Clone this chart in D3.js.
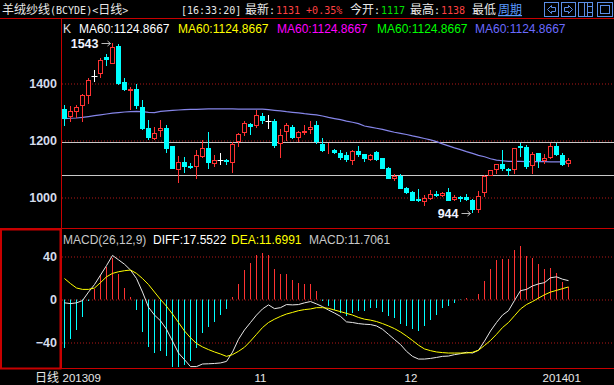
<!DOCTYPE html>
<html><head><meta charset="utf-8">
<script src="https://cdn.jsdelivr.net/npm/d3@7"></script>
<style>
body{margin:0;background:#000;}
svg{display:block;}
</style></head><body>
<div id="chart"></div>
<script>

// daily candles, Sep 2013 - Jan 2014
var open = [1310,1281,1300,1322,1357,1427,1432,1492,1470,1531,
    1405,1375,1380,1317,1243,1206,1234,1243,1180,1097,
    1124,1110,1107,1143,1172,1119,1130,1131,1122,1195,
    1227,1257,1251,1287,1270,1268,1186,1229,1247,1209,
    1226,1236,1255,1187,1164,1166,1157,1148,1127,1162,
    1153,1130,1159,1138,1103,1064,1075,1033,1019,995,
    985,995,1013,1005,1019,990,1001,1001,990,957,
    1017,1074,1097,1116,1099,1095,1180,1177,1110,1155,
    1127,1139,1180,1148,1117];
var close = [1274,1302,1317,1359,1412,1427,1481,1483,1529,1398,
    1377,1382,1320,1240,1208,1226,1243,1171,1099,1123,
    1107,1103,1148,1172,1122,1130,1130,1124,1187,1222,
    1261,1247,1289,1269,1270,1181,1219,1254,1209,1229,
    1233,1246,1193,1162,1167,1155,1138,1132,1162,1148,
    1134,1148,1131,1100,1065,1077,1029,1016,988,988,
    999,1012,1005,1017,988,1002,994,990,955,1007,
    1074,1095,1116,1099,1092,1172,1174,1107,1151,1127,
    1137,1179,1148,1115,1131];
var high = [1324,1320,1324,1364,1420,1448,1488,1502,1543,1540,
    1418,1388,1398,1341,1271,1248,1271,1253,1180,1145,
    1141,1120,1166,1201,1229,1148,1155,1134,1193,1228,
    1268,1261,1306,1296,1288,1275,1242,1263,1256,1233,
    1254,1268,1268,1210,1192,1171,1168,1158,1166,1180,
    1154,1151,1162,1138,1106,1081,1081,1038,1022,1029,
    1010,1026,1022,1020,1033,1008,1006,1011,996,1022,
    1078,1098,1117,1166,1103,1172,1191,1184,1158,1155,
    1154,1192,1192,1155,1138];
var low = [1251,1265,1278,1265,1327,1406,1420,1462,1470,1396,
    1373,1306,1312,1236,1201,1201,1213,1157,1099,1051,
    1086,1100,1064,1137,1099,1106,1113,1113,1086,1178,
    1216,1219,1244,1258,1240,1172,1139,1199,1205,1193,
    1219,1222,1189,1158,1152,1151,1132,1124,1113,1143,
    1125,1127,1127,1100,1065,1058,1029,1013,988,985,
    971,990,1001,1002,988,988,985,987,944,946,
    1002,1074,1082,1093,1076,1083,1142,1100,1083,1104,
    1118,1134,1146,1111,1106];
var ma60 = [1277,1278,1279,1281,1284,1287,1290,1293,1296,1298,
    1300,1301,1302,1301,1299,1298,1302,1304,1306,1307,
    1308,1309,1309,1310,1311,1311,1311,1311,1311,1310,
    1310,1310,1310,1310,1308,1306,1304,1301,1299,1297,
    1294,1292,1290,1286,1281,1277,1273,1268,1264,1259,
    1251,1247,1243,1239,1234,1229,1225,1221,1216,1212,
    1207,1202,1196,1188,1181,1174,1168,1161,1155,1148,
    1143,1136,1131,1129,1127,1127,1127,1126,1126,1126,
    1126,1125,1125,1125,1125];

// MACD(26,12,9)
var diff = [-3.1,-3.8,-3.1,-1,6.9,13.9,22.7,31.5,41,36.9,
    32.8,27.4,19.5,6.9,-7.2,-14.5,-19.8,-27.7,-38.7,-49.8,
    -56,-62.4,-62.4,-60,-59.8,-59.5,-59,-57.6,-49,-37,
    -28.3,-21.4,-14.5,-8.8,-5,-8.5,-7.6,-4.7,-5,-4.7,
    -3.1,-1.9,-4.1,-6.6,-9.8,-12.6,-15.7,-20.8,-21.4,-22.4,
    -23,-23.3,-24.6,-27.7,-32.4,-37.2,-41.9,-48.2,-52.9,-55.4,
    -55.4,-54.8,-53.9,-52.9,-52.6,-51.3,-50.4,-49.1,-49.8,-47.2,
    -38.7,-29.3,-21.4,-14.5,-10.4,-0.9,8.2,9.4,12.6,14.5,
    15.7,20.2,21.1,18.9,17.55];
var dea = [19.5,14.8,10.7,9.4,9.4,10.7,15.7,21.1,24.3,25.8,
    26.8,27.4,24.3,19.5,13.9,6.9,0,-6.3,-13.5,-21.4,
    -29.3,-35.6,-40.9,-44.1,-46.6,-48.8,-50.7,-52.9,-51.3,-48.2,
    -44.4,-38.7,-32.4,-26.1,-21.4,-18.3,-15.7,-13.5,-12,-10.4,
    -9.4,-8.8,-7.6,-7.6,-8.2,-9.8,-11.3,-12.9,-14.5,-16.7,
    -18.3,-19.2,-20.5,-22.4,-24.6,-27.1,-30.2,-34,-38.1,-42.5,
    -46,-47.6,-48.8,-49.4,-49.8,-49.8,-49.8,-49.8,-49.1,-47.2,
    -42.8,-38.1,-32.4,-26.1,-21.4,-15.1,-8.8,-4.7,-1.9,1.3,
    4.4,6.9,8.5,10.1,11.7];
var macd = [-45,-36.5,-28,-16.7,-1,10,23,30,39,24,
    11,2,-10,-30,-44,-50,-48,-53,-63,-63,
    -61,-57,-45,-31,-26,-21,-14.5,-9,2,14,
    27,34,41.5,43.5,41.5,28,23.6,23.6,18,15,
    14,14,7.5,-1,-5.7,-9.5,-12.6,-15.7,-12.6,-11,
    -11,-8.2,-8.2,-11.3,-15,-17.6,-23,-25,-27.7,-29.3,
    -24.6,-19.2,-14.5,-8.2,-6.3,-3.1,-0.5,1.2,0.5,4.7,
    17,28.7,36.8,38,38,46.3,50,40.6,38.4,33,
    28.7,29.3,24.6,16.4,11.7];

var priceTicks = [1000, 1200, 1400];
var levelLines = [1194, 1078];
var macdTicks = [-40, 0, 40];
var monthIdx = [0, 32, 57, 80];
var monthLabels = ["201309", "11", "12", "201401"];

var maLegend = [
    {t: "MA60:1124.8667", c: "#ffffff"},
    {t: "MA60:1124.8667", c: "#ffff00"},
    {t: "MA60:1124.8667", c: "#ff00ff"},
    {t: "MA60:1124.8667", c: "#00ff00"},
    {t: "MA60:1124.8667", c: "#6a6aff"}
];
var macdLegend = [
    {t: "MACD(26,12,9)", c: "#c8c8c8"},
    {t: "DIFF:17.5522", c: "#ffffff"},
    {t: "DEA:11.6991", c: "#ffff00"},
    {t: "MACD:11.7061", c: "#c8c8c8"}
];

var width = 614, height = 385;
var red = "#ff3232", cyan = "#00ffff", frame = "#c80000";

var svg = d3.select("#chart").append("svg")
    .attr("width", width)
    .attr("height", height)
    .style("background", "#000");

var x = d3.scaleBand()
    .domain(d3.range(open.length))
    .range([61.5, 61.5 + open.length * 6]);
function cx(i) { return x(i) + x.bandwidth() / 2; }

var y = d3.scaleLinear().domain([1000, 1400]).range([197.5, 83.5]);
var ym = d3.scaleLinear().domain([-40, 40]).range([342.5, 256.5]);

// header
function richText(sel, str) {
    var runs = str.match(/[\u4e00-\u9fff]+|[^\u4e00-\u9fff]+/g);
    runs.forEach(function(r) {
        var cjk = /[\u4e00-\u9fff]/.test(r);
        sel.append("tspan").text(r)
            .style("font-family", cjk ? "'Noto Sans CJK SC'" : "'DejaVu Sans Mono'")
            .style("font-size", cjk ? "12px" : "10px");
    });
}
var header = [
    {x: 2, t: "羊绒纱线(BCYDE)<日线>", c: "#e8e8e8"},
    {x: 181, t: "[16:33:20]", c: "#e8e8e8"},
    {x: 245, t: "最新:", c: "#e8e8e8"},
    {x: 276, t: "1131 +0.35%", c: "#ff4040"},
    {x: 350, t: "今开:", c: "#e8e8e8"},
    {x: 381, t: "1117", c: "#00e000"},
    {x: 410, t: "最高:", c: "#e8e8e8"},
    {x: 441, t: "1138", c: "#ff4040"},
    {x: 472, t: "最低", c: "#e8e8e8"},
    {x: 498, t: "周期", c: "#5a9aff"}
];
header.forEach(function(d) {
    var t = svg.append("text").attr("x", d.x).attr("y", 14).attr("fill", d.c);
    richText(t, d.t);
    if (d.t == "周期") t.style("text-decoration", "underline");
});

// toolbar icons
var ic = svg.append("g").attr("fill", "none").attr("stroke", "#5b8ee6").attr("stroke-width", 1);
[544.5, 561.5, 578.5, 597.5].forEach(function(px, k) {
    ic.append("rect").attr("x", px).attr("y", 2.5).attr("width", k == 3 ? 15 : 14).attr("height", 14);
});
ic.append("path").attr("d", "M547.5,9.5 L551.5,5.5 L551.5,7.5 L555.5,7.5 L555.5,11.5 L551.5,11.5 L551.5,13.5 Z");
ic.append("path").attr("d", "M572.5,9.5 L568.5,5.5 L568.5,7.5 L564.5,7.5 L564.5,11.5 L568.5,11.5 L568.5,13.5 Z");
ic.append("path").attr("d", "M587.5,2.5 V16.5 M584.5,2.5 V16.5 M587.5,6.5 H592.5 M587.5,12.5 H592.5");
ic.append("rect").attr("x", 600.5).attr("y", 5.5).attr("width", 9).attr("height", 8);

// frame
var fr = svg.append("g").attr("stroke", frame).attr("fill", "none");
fr.append("line").attr("x1", 0).attr("x2", width).attr("y1", 18.5).attr("y2", 18.5);
fr.append("line").attr("x1", 0).attr("x2", width).attr("y1", 228.5).attr("y2", 228.5);
fr.append("line").attr("x1", 0).attr("x2", width).attr("y1", 368.5).attr("y2", 368.5);
fr.append("line").attr("x1", 61.5).attr("x2", 61.5).attr("y1", 18).attr("y2", 369);
fr.append("rect").attr("x", 1).attr("y", 229.5).attr("width", 59.5).attr("height", 139)
    .attr("stroke-width", 2);

// grid lines
function grid(scale, ticks) {
    var g = svg.append("g")
        .attr("transform", "translate(62,0)")
        .call(d3.axisRight(scale).tickValues(ticks).tickSize(width - 62).tickFormat(""));
    g.select(".domain").remove();
    g.selectAll("line").attr("stroke", "#b01818").attr("stroke-dasharray", "1,2");
}
grid(y, priceTicks);
grid(ym, macdTicks);

svg.append("g").selectAll("line")
    .data(levelLines)
    .enter().append("line")
    .attr("x1", 62).attr("x2", width)
    .attr("y1", function(d) { return Math.round(y(d)) + 0.5; })
    .attr("y2", function(d) { return Math.round(y(d)) + 0.5; })
    .attr("stroke", "#c8c8c8");

// left axes
function leftAxis(scale, ticks) {
    var g = svg.append("g")
        .attr("transform", "translate(61,0)")
        .call(d3.axisLeft(scale).tickValues(ticks).tickSize(0).tickPadding(4).tickFormat(d3.format("d")));
    g.select(".domain").remove();
    g.selectAll("text")
        .attr("fill", "#d4dcec")
        .style("font-family", "'Liberation Sans', Arial")
        .style("font-size", "12.5px")
        .style("font-weight", "bold");
}
leftAxis(y, priceTicks);
leftAxis(ym, macdTicks);

// MA60
var maLine = d3.line()
    .x(function(d, i) { return cx(i); })
    .y(function(d) { return y(d); });
svg.append("path")
    .datum(ma60)
    .attr("d", maLine)
    .attr("fill", "none")
    .attr("stroke", "#8585e8")
    .attr("stroke-width", 1.2);

// candles
var candles = open.map(function(o, i) {
    return {i: i, o: o, h: high[i], l: low[i], c: close[i]};
});
var cg = svg.append("g").selectAll("g")
    .data(candles)
    .enter().append("g");

cg.each(function(d) {
    var g = d3.select(this);
    var px = cx(d.i);
    var col = d.c > d.o ? red : (d.c < d.o ? cyan : "#ffffff");
    var yt = Math.round(y(Math.max(d.o, d.c))), yb = Math.round(y(Math.min(d.o, d.c)));
    g.append("line")
        .attr("x1", px).attr("x2", px)
        .attr("y1", Math.round(y(d.h))).attr("y2", Math.round(y(d.l)))
        .attr("stroke", col);
    if (d.c > d.o) {
        g.append("rect")
            .attr("x", px - 2).attr("y", yt + 0.5)
            .attr("width", 4).attr("height", Math.max(0, yb - yt - 1))
            .attr("fill", "#000").attr("stroke", col);
    } else if (d.c < d.o) {
        g.append("rect")
            .attr("x", px - 2.5).attr("y", yt)
            .attr("width", 5).attr("height", Math.max(1, yb - yt))
            .attr("fill", col);
    } else {
        g.append("line")
            .attr("x1", px - 3).attr("x2", px + 3)
            .attr("y1", yt + 0.5).attr("y2", yt + 0.5)
            .attr("stroke", col);
    }
});

// high / low marks
var hiI = d3.maxIndex(high), loI = d3.minIndex(low);
function mark(i, v) {
    var px = cx(i), py = Math.round(y(v)) + 0.5;
    svg.append("text")
        .attr("x", px - 14).attr("y", py + 4.5)
        .attr("text-anchor", "end")
        .attr("fill", "#eef2ff")
        .style("font-family", "'Liberation Sans', Arial")
        .style("font-size", "12.5px")
        .style("font-weight", "bold")
        .text(v);
    svg.append("path")
        .attr("d", "M" + (px - 11) + "," + py + "H" + (px - 2) + "M" + (px - 5) + "," + (py - 2.5) + "L" + (px - 2) + "," + py + "L" + (px - 5) + "," + (py + 2.5))
        .attr("fill", "none").attr("stroke", "#b8b8b8");
}
mark(hiI, high[hiI]);
mark(loI, low[loI]);

// legends
svg.append("text").attr("x", 63).attr("y", 33).attr("fill", "#e0e0e0")
    .style("font-family", "'Liberation Sans', Arial").style("font-size", "12px").text("K");
var maX = [79, 178, 277, 377, 475];
svg.append("g").selectAll("text")
    .data(maLegend)
    .enter().append("text")
    .attr("x", function(d, i) { return maX[i]; })
    .attr("y", 33)
    .attr("fill", function(d) { return d.c; })
    .style("font-family", "'Liberation Sans', Arial")
    .style("font-size", "12px")
    .text(function(d) { return d.t; });

var mdX = [63, 153, 231, 309];
svg.append("g").selectAll("text")
    .data(macdLegend)
    .enter().append("text")
    .attr("x", function(d, i) { return mdX[i]; })
    .attr("y", 243.5)
    .attr("fill", function(d) { return d.c; })
    .style("font-family", "'Liberation Sans', Arial")
    .style("font-size", "12px")
    .text(function(d) { return d.t; });

// MACD bars
svg.append("g").selectAll("line")
    .data(macd)
    .enter().append("line")
    .attr("x1", function(d, i) { return cx(i); })
    .attr("x2", function(d, i) { return cx(i); })
    .attr("y1", ym(0))
    .attr("y2", function(d) { return Math.round(ym(d)); })
    .attr("stroke", function(d) { return d >= 0 ? red : cyan; });

var mLine = d3.line()
    .x(function(d, i) { return cx(i); })
    .y(function(d) { return ym(d); });
svg.append("path").datum(diff).attr("d", mLine)
    .attr("fill", "none").attr("stroke", "#e8e8e8").attr("stroke-width", 1);
svg.append("path").datum(dea).attr("d", mLine)
    .attr("fill", "none").attr("stroke", "#ffff00").attr("stroke-width", 1);

// bottom axis
var xa = svg.append("g")
    .attr("transform", "translate(0,369)")
    .call(d3.axisBottom(x).tickValues(monthIdx).tickSize(0)
        .tickFormat(function(d, i) { return monthLabels[i]; }));
xa.select(".domain").remove();
xa.selectAll("text")
    .attr("x", -2)
    .attr("y", 12.5)
    .attr("dy", 0)
    .attr("text-anchor", "start")
    .attr("fill", "#e8e8e8")
    .style("font-family", "'Liberation Sans', Arial")
    .style("font-size", "11.5px");

svg.append("text").attr("x", 35).attr("y", 382).attr("fill", "#e8e8e8")
    .style("font-family", "'Noto Sans CJK SC'").style("font-size", "12px").text("日线");

</script>
</body></html>
